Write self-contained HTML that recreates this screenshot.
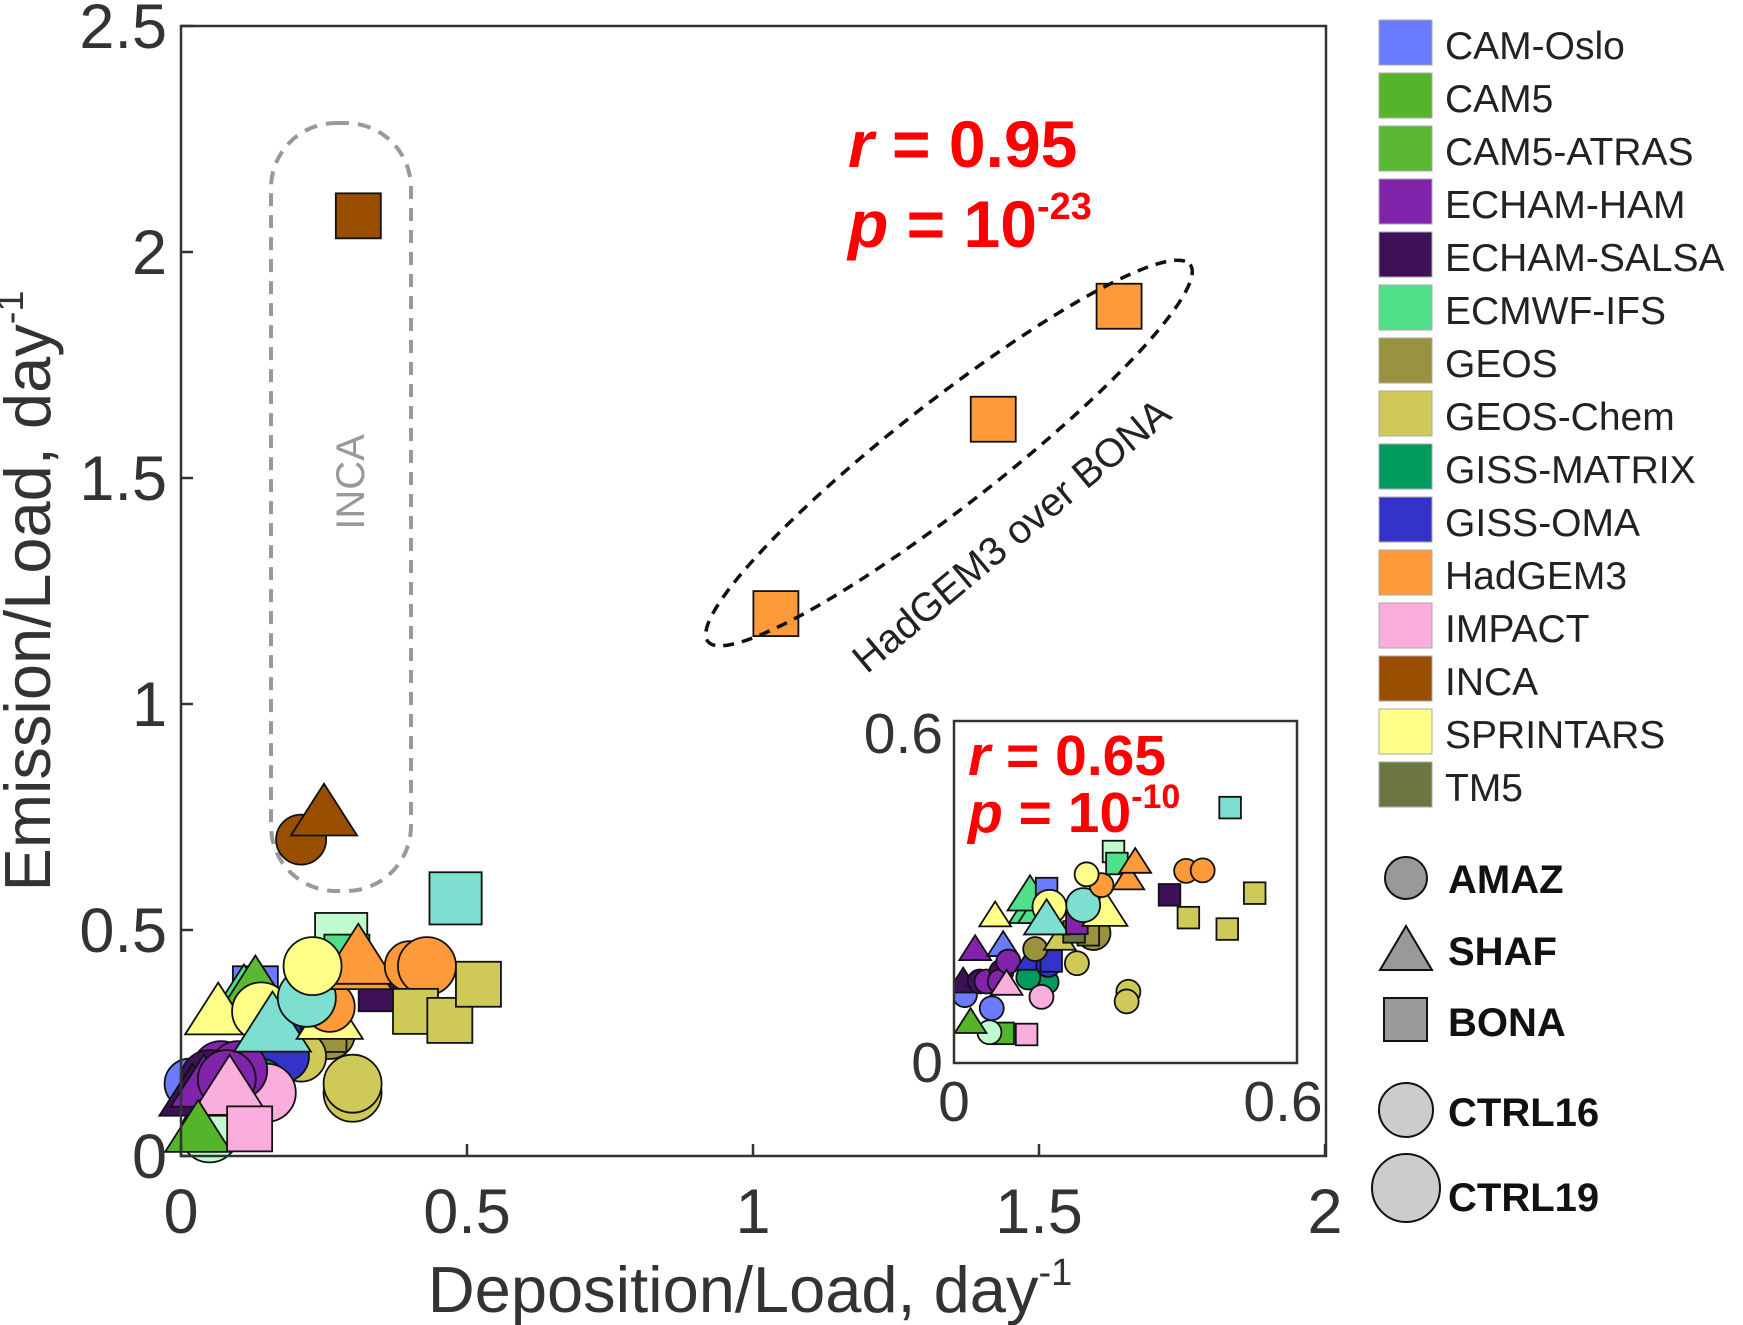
<!DOCTYPE html>
<html><head><meta charset="utf-8"><style>
html,body{margin:0;padding:0;background:#fff;}
svg{display:block;font-family:"Liberation Sans",Arial,sans-serif;}
</style></head><body>
<svg id="chart" width="1743" height="1325" viewBox="0 0 1743 1325" xmlns="http://www.w3.org/2000/svg">
<g id="main-marks"></g>
<rect x="181" y="26" width="1145" height="1130" fill="none" stroke="#333" stroke-width="2.5"/>
<g id="main-ticks"></g>
<rect x="271" y="123" width="140" height="768" rx="65" ry="65" fill="none" stroke="#999" stroke-width="4" stroke-dasharray="13,9"/>
<text transform="translate(364,482) rotate(-90)" text-anchor="middle" font-size="40" fill="#999">INCA</text>
<ellipse cx="949" cy="453" rx="306" ry="52" transform="rotate(-38 949 453)" fill="none" stroke="#111" stroke-width="3.5" stroke-dasharray="11,8"/>
<text transform="translate(1020,546) rotate(-40)" text-anchor="middle" font-size="40" fill="#222">HadGEM3 over BONA</text>
<text x="848" y="167" font-size="66" font-weight="bold" fill="#ff0000"><tspan font-style="italic">r</tspan> = 0.95</text>
<text x="848" y="247" font-size="66" font-weight="bold" fill="#ff0000"><tspan font-style="italic">p</tspan> = 10<tspan font-size="38" dy="-28">-23</tspan></text>
<g id="inset">
<rect x="954" y="721" width="343" height="342" fill="#fff"/>
<clipPath id="insetclip"><rect x="954" y="721" width="343" height="342"/></clipPath>
<g id="inset-marks" clip-path="url(#insetclip)"></g>
<rect x="954" y="721" width="343" height="342" fill="none" stroke="#333" stroke-width="2.5"/>
<text x="968" y="775" font-size="57" font-weight="bold" fill="#ff0000"><tspan font-style="italic">r</tspan> = 0.65</text>
<text x="968" y="832" font-size="57" font-weight="bold" fill="#ff0000"><tspan font-style="italic">p</tspan> = 10<tspan font-size="34" dy="-24">-10</tspan></text>
<text x="943" y="753" text-anchor="end" font-size="57" fill="#333">0.6</text>
<text x="943" y="1082" text-anchor="end" font-size="57" fill="#333">0</text>
<text x="954" y="1121" text-anchor="middle" font-size="57" fill="#333">0</text>
<text x="1283" y="1121" text-anchor="middle" font-size="57" fill="#333">0.6</text>
</g>
<text transform="translate(50,591) rotate(-90)" text-anchor="middle" font-size="65" fill="#333">Emission/Load, day<tspan font-size="38" dy="-27">-1</tspan></text>
<text x="750" y="1312" text-anchor="middle" font-size="65" fill="#333">Deposition/Load, day<tspan font-size="38" dy="-27">-1</tspan></text>
<g id="legend"></g>
<g font-size="40" font-weight="bold" fill="#111">
<circle cx="1406" cy="878" r="21" fill="#999" stroke="#111" stroke-width="2"/><text x="1448" y="893">AMAZ</text>
<polygon points="1406,926 1432,970 1380,970" fill="#999" stroke="#111" stroke-width="2"/><text x="1448" y="965">SHAF</text>
<rect x="1384" y="998" width="43" height="43" fill="#999" stroke="#111" stroke-width="2"/><text x="1448" y="1036">BONA</text>
<circle cx="1406" cy="1110" r="27" fill="#ccc" stroke="#111" stroke-width="2"/><text x="1448" y="1126">CTRL16</text>
<circle cx="1406" cy="1188" r="34" fill="#ccc" stroke="#111" stroke-width="2"/><text x="1448" y="1211">CTRL19</text>
</g>
</svg>
<script>
const legendModels = ["CAM-Oslo","CAM5","CAM5-ATRAS","ECHAM-HAM","ECHAM-SALSA","ECMWF-IFS","GEOS","GEOS-Chem","GISS-MATRIX","GISS-OMA","HadGEM3","IMPACT","INCA","SPRINTARS","TM5"];
const legendColors = ["#6b7bff","#55b52a","#5bb832","#8224ab","#3d1057","#50e08a","#999340","#cfc95a","#009a5e","#3333c9","#ff9a3a","#f9aedd","#994e00","#ffff88","#6b7643"];
const xTicks = [0,0.5,1,1.5,2];
const xTickLabels = ["0","0.5","1","1.5","2"];
const yTicks = [0,0.5,1,1.5,2,2.5];
const yTickLabels = ["0","0.5","1","1.5","2","2.5"];
// main plot points
const ptX = [0.05,0.015,0.03,0.13,0.11,0.13,0.28,0.29,0.35,0.30,0.30,0.26,0.25,0.21,0.17,0.18,0.14,0.15,0.07,0.05,0.10,0.02,0.04,0.08,0.085,0.03,0.12,0.065,0.14,0.16,0.26,0.26,0.22,0.31,0.31,0.40,0.43,0.23,0.41,0.47,0.52,0.48,0.31,0.21,0.25,1.04,1.42,1.64];
const ptY = [0.05,0.16,0.15,0.37,0.36,0.38,0.48,0.44,0.37,0.14,0.16,0.27,0.28,0.22,0.25,0.22,0.16,0.14,0.19,0.17,0.19,0.14,0.16,0.17,0.15,0.06,0.06,0.32,0.32,0.29,0.31,0.33,0.35,0.42,0.44,0.42,0.42,0.42,0.32,0.30,0.38,0.57,2.08,0.70,0.76,1.20,1.63,1.88];
const ptColor = ["#c0fbd0","#6b7bff","#3d1057","#6b7bff","#50e08a","#5bb832","#c0fbd0","#50e08a","#3d1057","#cfc95a","#cfc95a","#999340","#999340","#cfc95a","#3333c9","#3333c9","#009a5e","#f9aedd","#8224ab","#3d1057","#8224ab","#3d1057","#8224ab","#8224ab","#f9aedd","#55b52a","#f9aedd","#ffff88","#ffff88","#7ddfcf","#ffff88","#ff9a3a","#7ddfcf","#ff9a3a","#ff9a3a","#ff9a3a","#ff9a3a","#ffff88","#cfc95a","#cfc95a","#cfc95a","#7ddfcf","#994e00","#994e00","#994e00","#ff9a3a","#ff9a3a","#ff9a3a"];
const ptShape = ["c","c","t","s","t","t","s","s","s","c","c","c","s","c","s","c","c","c","c","c","c","t","t","c","t","t","s","t","c","t","t","c","c","t","t","c","c","c","s","s","s","s","s","c","t","s","s","s"];
const ptExp = [19,16,16,16,16,16,19,16,16,19,19,16,16,16,16,16,16,19,19,19,19,16,16,19,19,16,16,16,19,19,16,16,19,16,19,16,19,19,16,16,16,19,16,16,16,16,16,16];
// inset points
const inX = [0.086,0.062,0.127,0.029,0.019,0.066,0.016,0.037,0.086,0.045,0.057,0.083,0.080,0.095,0.162,0.130,0.153,0.092,0.136,0.165,0.170,0.142,0.244,0.235,0.215,0.305,0.302,0.185,0.210,0.124,0.140,0.133,0.162,0.072,0.167,0.162,0.215,0.264,0.226,0.258,0.232,0.279,0.285,0.305,0.317,0.377,0.406,0.435,0.410,0.478,0.526,0.483];
const inY = [0.052,0.054,0.050,0.072,0.119,0.096,0.143,0.200,0.207,0.143,0.143,0.160,0.143,0.178,0.142,0.150,0.116,0.139,0.183,0.172,0.179,0.200,0.228,0.225,0.175,0.125,0.108,0.218,0.230,0.265,0.265,0.295,0.306,0.259,0.274,0.253,0.245,0.268,0.277,0.312,0.331,0.371,0.350,0.324,0.353,0.295,0.337,0.338,0.255,0.235,0.298,0.448];
const inColor = ["#55b52a","#c0fbd0","#f9aedd","#55b52a","#6b7bff","#6b7bff","#3d1057","#8224ab","#6b7bff","#3d1057","#8224ab","#3d1057","#8224ab","#8224ab","#009a5e","#009a5e","#f9aedd","#f9aedd","#3333c9","#3333c9","#3333c9","#999340","#999340","#999340","#cfc95a","#cfc95a","#cfc95a","#cfc95a","#6b7643","#50e08a","#50e08a","#50e08a","#6b7bff","#ffff88","#ffff88","#7ddfcf","#8224ab","#ffff88","#7ddfcf","#ff9a3a","#ffff88","#c0fbd0","#50e08a","#ff9a3a","#ff9a3a","#3d1057","#ff9a3a","#ff9a3a","#cfc95a","#cfc95a","#cfc95a","#7ddfcf"];
const inShape = ["s","c","s","t","c","c","t","t","t","c","c","c","c","c","c","c","c","t","t","c","s","c","c","s","c","c","c","t","s","t","t","t","s","t","c","t","s","t","c","c","c","s","s","t","t","s","c","c","s","s","s","s"];
const inExp = [16,16,16,16,16,16,16,16,16,16,16,16,16,16,16,16,16,16,16,16,16,16,19,16,16,16,16,16,16,16,16,19,16,16,19,19,16,19,19,16,16,16,16,16,16,16,16,16,16,16,16,16];

const NS = "http://www.w3.org/2000/svg";
const xMain = v => 181 + v * 572;
const yMain = v => 1156 - v * 452;
const xIn = v => 954 + v / 0.6 * 343;
const yIn = v => 1063 - v / 0.6 * 342;

function marker(g, shape, cx, cy, size, color) {
  let el;
  if (shape === "c") {
    el = document.createElementNS(NS, "circle");
    el.setAttribute("cx", cx); el.setAttribute("cy", cy); el.setAttribute("r", size);
  } else if (shape === "s") {
    const h = size * 0.9;
    el = document.createElementNS(NS, "rect");
    el.setAttribute("x", cx - h); el.setAttribute("y", cy - h);
    el.setAttribute("width", 2 * h); el.setAttribute("height", 2 * h);
  } else {
    const h = size * 1.15;
    el = document.createElementNS(NS, "polygon");
    el.setAttribute("points", `${cx},${cy - h} ${cx + h * 1.15},${cy + h * 0.8} ${cx - h * 1.15},${cy + h * 0.8}`);
  }
  el.setAttribute("fill", color);
  el.setAttribute("stroke", "#111");
  el.setAttribute("stroke-width", "1.8");
  g.appendChild(el);
  return el;
}

const gm = document.getElementById("main-marks");
for (let i = 0; i < ptX.length; i++) {
  const sMain = ptExp[i] === 19 ? 29 : 25;
  const m = marker(gm, ptShape[i], xMain(ptX[i]), yMain(ptY[i]), sMain, ptColor[i]);
  
  
}
const gi = document.getElementById("inset-marks");
for (let i = 0; i < inX.length; i++) {
  const sIn = inExp[i] === 19 ? 17 : 12;
  const n = marker(gi, inShape[i], xIn(inX[i]), yIn(inY[i]), sIn, inColor[i]);
  
  
}

const gt = document.getElementById("main-ticks");
xTicks.forEach((v, i) => {
  const x = xMain(v);
  const l = document.createElementNS(NS, "line");
  l.setAttribute("x1", x); l.setAttribute("x2", x); l.setAttribute("y1", 1156); l.setAttribute("y2", 1144);
  l.setAttribute("stroke", "#333"); l.setAttribute("stroke-width", "2.5");
  
  
  gt.appendChild(l);
  const t = document.createElementNS(NS, "text");
  t.setAttribute("x", x); t.setAttribute("y", 1233);
  t.setAttribute("text-anchor", "middle"); t.setAttribute("font-size", "63"); t.setAttribute("fill", "#333");
  t.textContent = xTickLabels[i];
  
  
  gt.appendChild(t);
});
yTicks.forEach((v, i) => {
  const y = yMain(v);
  const l = document.createElementNS(NS, "line");
  l.setAttribute("x1", 181); l.setAttribute("x2", 193); l.setAttribute("y1", y); l.setAttribute("y2", y);
  l.setAttribute("stroke", "#333"); l.setAttribute("stroke-width", "2.5");
  
  
  gt.appendChild(l);
  const t = document.createElementNS(NS, "text");
  t.setAttribute("x", 167); t.setAttribute("y", y + 22);
  t.setAttribute("text-anchor", "end"); t.setAttribute("font-size", "63"); t.setAttribute("fill", "#333");
  t.textContent = yTickLabels[i];
  
  
  gt.appendChild(t);
});

const gl = document.getElementById("legend");
legendModels.forEach((name, i) => {
  const y = 20 + i * 53;
  const r = document.createElementNS(NS, "rect");
  r.setAttribute("x", 1379); r.setAttribute("y", y);
  r.setAttribute("width", 53); r.setAttribute("height", 45);
  r.setAttribute("fill", legendColors[i]); r.setAttribute("stroke", "#aaa"); r.setAttribute("stroke-width", "1");
  
  
  gl.appendChild(r);
  const t = document.createElementNS(NS, "text");
  t.setAttribute("x", 1445); t.setAttribute("y", y + 39);
  t.setAttribute("font-size", "39"); t.setAttribute("fill", "#222");
  t.textContent = name;
  
  
  gl.appendChild(t);
});
</script>
</body></html>
